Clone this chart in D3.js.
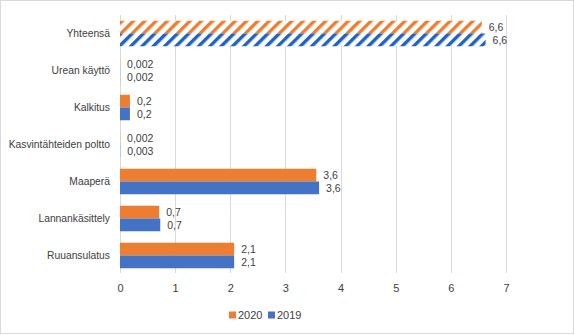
<!DOCTYPE html>
<html>
<head>
<meta charset="utf-8">
<script src="https://cdn.jsdelivr.net/npm/d3@7"></script>
<style>
  html, body { margin: 0; padding: 0; background: #fff; }
  svg text { font-family: "Liberation Sans", Arial, sans-serif; fill: #404040; }
</style>
</head>
<body>
<svg id="chart" width="574" height="335"></svg>
<script>
// Emission sources, top to bottom
const categories = ["Yhteensä", "Urean käyttö", "Kalkitus", "Kasvintähteiden poltto", "Maaperä", "Lannankäsittely", "Ruuansulatus"];
const values2020 = [6.56, 0.002, 0.18, 0.002, 3.56, 0.71, 2.07];
const values2019 = [6.63, 0.002, 0.18, 0.003, 3.61, 0.73, 2.07];
const seriesNames = ["2020", "2019"];
const xTicks = [0, 1, 2, 3, 4, 5, 6, 7];

const colors = { "2020": "#ED7D31", "2019": "#4472C4" };
const hatchColors = { "2020": "#ED7D31", "2019": "#1F62C2" };
const totalCategory = "Yhteensä";

const svg = d3.select("#chart");
const W = 574, H = 335;
const margin = { top: 15, right: 68, bottom: 62, left: 120 };
const innerW = W - margin.left - margin.right;
const innerH = H - margin.top - margin.bottom;

// Chart frame
svg.append("rect")
  .attr("x", 0.5).attr("y", 0.5)
  .attr("width", W - 1).attr("height", H - 2)
  .attr("fill", "#fff").attr("stroke", "#d9d9d9");

// Diagonal hatch fills for the total row
const defs = svg.append("defs");
seriesNames.forEach(s => {
  const p = defs.append("pattern")
    .attr("id", "hatch" + s)
    .attr("patternUnits", "userSpaceOnUse")
    .attr("width", 8).attr("height", 8)
    .attr("patternTransform", "rotate(45)");
  p.append("rect").attr("width", 8).attr("height", 8).attr("fill", "#fff");
  p.append("rect").attr("x", 0).attr("width", 3.4).attr("height", 8).attr("fill", hatchColors[s]);
});

const g = svg.append("g").attr("transform", `translate(${margin.left},${margin.top})`);

const x = d3.scaleLinear().domain([0, 7]).range([0, 386]);
const y = d3.scaleBand().domain(categories).range([0, innerH + 1]).paddingInner(0.31).paddingOuter(0.155);
const ySub = d3.scaleBand().domain(seriesNames).range([0, y.bandwidth()]);

// Vertical gridlines
g.append("g")
  .selectAll("line")
  .data(xTicks)
  .join("line")
  .attr("x1", d => Math.round(x(d)) + 0.5)
  .attr("x2", d => Math.round(x(d)) + 0.5)
  .attr("y1", 0).attr("y2", innerH)
  .attr("stroke", "#d9d9d9").attr("stroke-width", 1);

// X axis tick labels
const xAxis = d3.axisBottom(x).tickValues(xTicks).tickSize(0).tickPadding(0).tickFormat(d3.format("d"));
const xa = g.append("g").attr("transform", `translate(0,${innerH + 11})`).call(xAxis);
xa.select(".domain").remove();
xa.selectAll("text").attr("font-size", 11).attr("fill", "#404040").style("font-family", '"Liberation Sans", Arial, sans-serif');

// Category labels
const ya = g.append("g").attr("transform", "translate(-10,0)")
  .call(d3.axisLeft(y).tickSize(0).tickPadding(0));
ya.select(".domain").remove();
ya.selectAll("text").attr("font-size", 10.3).attr("fill", "#404040").style("font-family", '"Liberation Sans", Arial, sans-serif');

const fmtLabel = v => (v < 0.01 ? d3.format(".3f")(v) : d3.format(".1f")(v)).replace(".", ",");

const rows = categories.map((c, i) => ({ cat: c, vals: [
  { s: "2020", v: values2020[i] },
  { s: "2019", v: values2019[i] }
]}));

const rowG = g.selectAll(".row").data(rows).join("g")
  .attr("class", "row")
  .attr("transform", d => `translate(0,${y(d.cat)})`);

rowG.selectAll("rect.bar").data(d => d.vals.map(v => ({ ...v, cat: d.cat })))
  .join("rect")
  .attr("class", "bar")
  .attr("x", x(0))
  .attr("y", d => ySub(d.s))
  .attr("width", d => x(d.v) - x(0))
  .attr("height", ySub.bandwidth())
  .attr("fill", d => d.cat === totalCategory ? `url(#hatch${d.s})` : colors[d.s]);

rowG.selectAll("text.val").data(d => d.vals)
  .join("text")
  .attr("class", "val")
  .attr("x", d => x(d.v) + 7)
  .attr("y", d => ySub(d.s) + ySub.bandwidth() / 2)
  .attr("dy", "0.35em")
  .attr("font-size", 10.5)
  .text(d => fmtLabel(d.v));

// Legend
const legend = svg.append("g").attr("transform", "translate(229,315)");
let lx = 0;
seriesNames.forEach(s => {
  const item = legend.append("g").attr("transform", `translate(${lx},0)`);
  item.append("rect").attr("x", 0).attr("y", -3.5).attr("width", 7).attr("height", 7).attr("fill", colors[s]);
  item.append("text").attr("x", 9).attr("y", 0).attr("dy", "0.35em").attr("font-size", 11).text(s);
  lx += 39;
});
</script>
</body>
</html>
